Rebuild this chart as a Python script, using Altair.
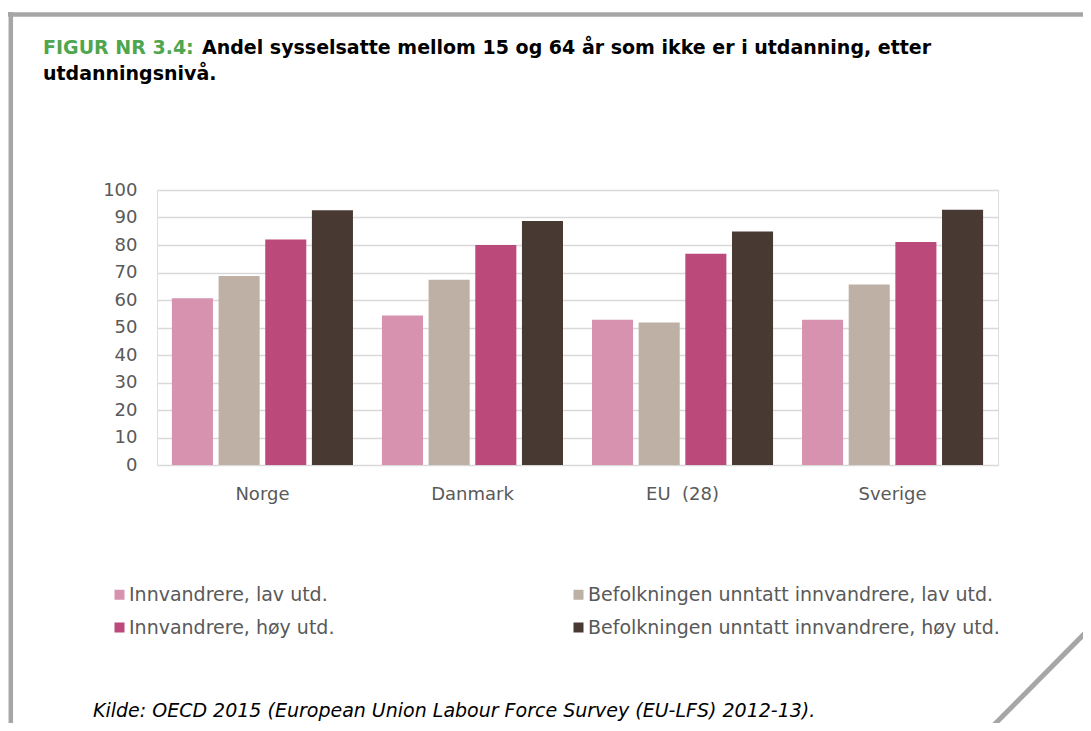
import altair as alt
import pandas as pd

countries = ["Norge", "Danmark", "EU \u00a0(28)", "Sverige"]
series = [
    "Innvandrere, lav utd.",
    "Befolkningen unntatt innvandrere, lav utd.",
    "Innvandrere, høy utd.",
    "Befolkningen unntatt innvandrere, høy utd.",
]
innv_lav = [60.6, 54.4, 52.8, 52.8]
bef_lav = [68.7, 67.4, 51.8, 65.6]
innv_hoy = [82.0, 80.0, 76.8, 81.1]
bef_hoy = [92.6, 88.7, 84.9, 92.8]
colors = ["#D692AF", "#BFB0A5", "#BB4A7B", "#483A32"]
y_ticks = [0, 10, 20, 30, 40, 50, 60, 70, 80, 90, 100]

title_green = "FIGUR NR 3.4:"
title_line1 = "Andel sysselsatte mellom 15 og 64 år som ikke er i utdanning, etter"
title_line2 = "utdanningsnivå."
source = "Kilde: OECD 2015 (European Union Labour Force Survey (EU-LFS) 2012-13)."

rows = []
for i, c in enumerate(countries):
    for s, vals in zip(series, [innv_lav, bef_lav, innv_hoy, bef_hoy]):
        rows.append({"land": c, "serie": s, "verdi": vals[i]})
df = pd.DataFrame(rows)

W, H = 841, 275
OX, OY = 149, 182  # plot origin inside canvas (page margin 8 added)
CW, CH = 1075, 715

bars = alt.Chart(df).mark_bar().encode(
    x=alt.X("land:N", sort=countries, title=None,
            scale=alt.Scale(paddingInner=0.138, paddingOuter=0.071),
            axis=alt.Axis(labelAngle=0, labelFontSize=18, labelColor="#595959",
                          labelFont="DejaVu Sans", labelPadding=20, ticks=False,
                          tickSize=0, domain=False)),
    xOffset=alt.XOffset("serie:N", sort=series,
                        scale=alt.Scale(paddingInner=0.12, paddingOuter=0)),
    y=alt.Y("verdi:Q", title=None,
            scale=alt.Scale(domain=[0, 100], nice=False),
            axis=alt.Axis(values=y_ticks, labelFontSize=18, labelColor="#595959",
                          labelFont="DejaVu Sans", labelPadding=20, ticks=False,
                          tickSize=0, domain=False, grid=True,
                          gridColor="#D9D9D9", gridWidth=1.5)),
    color=alt.Color("serie:N", sort=series,
                    scale=alt.Scale(domain=series, range=colors),
                    legend=alt.Legend(title=None, orient="none", legendX=-47,
                                      legendY=395, columns=2, direction="horizontal",
                                      columnPadding=234, padding=0,
                                      rowPadding=13, symbolType="square",
                                      symbolSize=100, symbolStrokeWidth=0,
                                      symbolOffset=0, labelOffset=0,
                                      labelFontSize=19, labelColor="#595959",
                                      labelFont="DejaVu Sans", labelLimit=600)),
)

one = alt.Data(values=[{"k": 1}])

def txt(text, x, y, color="black", size=19, weight="bold", style="normal"):
    return alt.Chart(one).mark_text(
        text=text, align="left", baseline="alphabetic", fontSize=size,
        fontWeight=weight, fontStyle=style, color=color, font="DejaVu Sans"
    ).encode(x=alt.value(x), y=alt.value(y))

def rule(x1, y1, x2, y2, w):
    return alt.Chart(one).mark_rule(color="#A6A6A6", strokeWidth=w).encode(
        x=alt.value(x1), y=alt.value(y1), x2=alt.value(x2), y2=alt.value(y2))

px = lambda v: v - 157
py = lambda v: v - 190

frame = (
    rule(px(8), py(14.5), px(1095), py(14.5), 4.5)
    + rule(px(10.8), py(12), px(10.8), py(735), 4.5)
    + rule(px(1092), py(626), px(986), py(733), 5)
)

texts = (
    txt(title_green, px(43), py(54), color="#4EA64E")
    + txt(title_line1, px(202), py(54))
    + txt(title_line2, px(43), py(80))
    + txt(source, px(93), py(717), size=19, weight="normal", style="italic")
)

chart = alt.layer(bars, frame, texts).properties(
    width=W, height=H,
    autosize=alt.AutoSizeParams(type="none"),
    padding={"left": OX, "top": OY, "right": CW - OX - W, "bottom": CH - OY - H},
).configure_view(stroke=None).configure(background="white")

chart.save("out.html", embed_options={"renderer": "svg", "actions": False})
